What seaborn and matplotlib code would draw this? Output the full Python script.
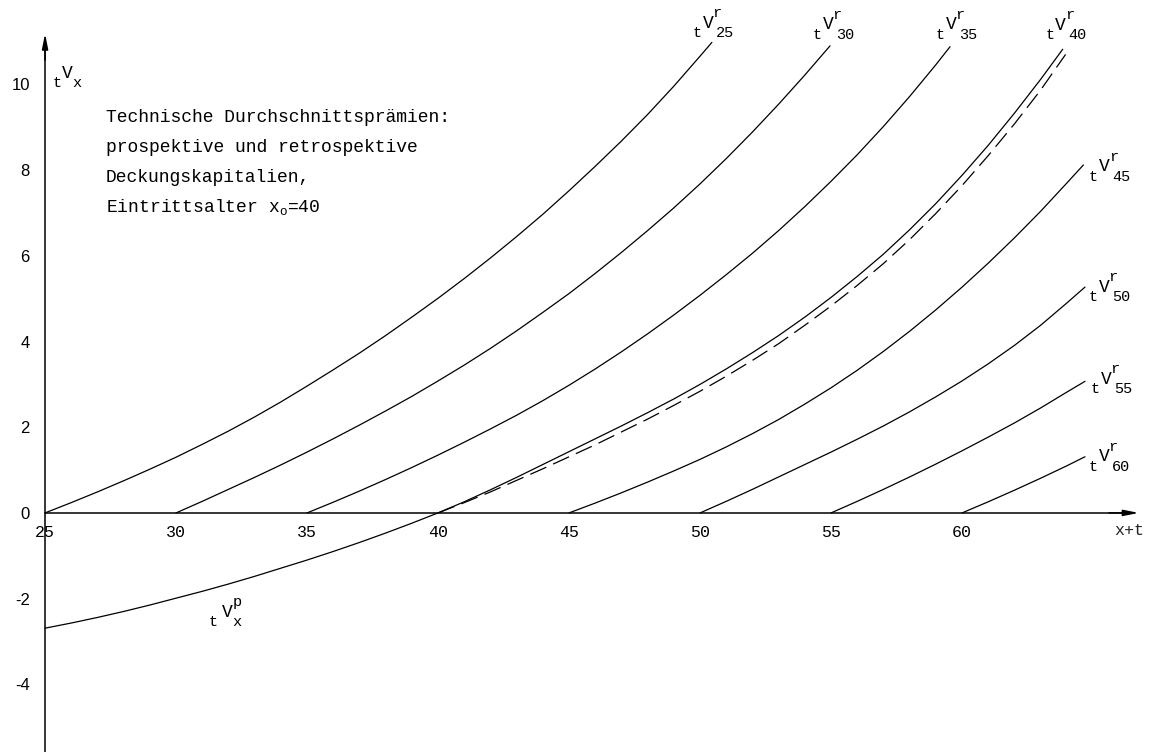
import numpy as np
import pandas as pd
import matplotlib
matplotlib.use("Agg")
import matplotlib.pyplot as plt
import seaborn as sns

# ---------------- data ----------------
age_r25 = [25, 26, 27, 28, 29, 30, 31, 32, 33, 34, 35, 36, 37, 38, 39, 40,
           41, 42, 43, 44, 45, 46, 47, 48, 49, 50, 50.45]
res_r25 = [0, 0.24, 0.49, 0.75, 1.02, 1.30, 1.60, 1.91, 2.24, 2.59, 2.96, 3.34,
           3.73, 4.14, 4.57, 5.01, 5.47, 5.95, 6.45, 6.97, 7.52, 8.09, 8.68,
           9.30, 9.96, 10.66, 10.98]

age_r30 = [30, 31, 32, 33, 34, 35, 36, 37, 38, 39, 40, 41, 42, 43, 44, 45,
           46, 47, 48, 49, 50, 51, 52, 53, 54, 54.96]
res_r30 = [0, 0.27, 0.55, 0.83, 1.12, 1.42, 1.73, 2.05, 2.38, 2.72, 3.08, 3.45,
           3.84, 4.25, 4.68, 5.12, 5.59, 6.08, 6.59, 7.12, 7.68, 8.27, 8.89,
           9.54, 10.22, 10.90]

age_r35 = [35, 36, 37, 38, 39, 40, 41, 42, 43, 44, 45, 46, 47, 48, 49, 50,
           51, 52, 53, 54, 55, 56, 57, 58, 59, 59.54]
res_r35 = [0, 0.25, 0.51, 0.78, 1.06, 1.35, 1.65, 1.96, 2.28, 2.62, 2.98, 3.36,
           3.76, 4.18, 4.62, 5.08, 5.56, 6.06, 6.59, 7.15, 7.74, 8.36, 9.02,
           9.72, 10.46, 10.88]

age_p = [25, 26, 27, 28, 29, 30, 31, 32, 33, 34, 35, 36, 37, 38, 39, 40, 41,
         42, 43, 44, 45, 46, 47, 48, 49, 50, 51, 52, 53, 54, 55, 56, 57, 58,
         59, 60, 61, 62, 63, 63.84]
res_p = [-2.69, -2.57, -2.44, -2.30, -2.15, -1.99, -1.83, -1.66, -1.48, -1.29,
         -1.10, -0.90, -0.69, -0.47, -0.24, 0, 0.26, 0.54, 0.83, 1.13, 1.43,
         1.73, 2.03, 2.34, 2.66, 3.00, 3.36, 3.74, 4.14, 4.57, 5.03, 5.52,
         6.04, 6.61, 7.22, 7.88, 8.58, 9.33, 10.12, 10.82]

age_r40 = [40, 41, 42, 43, 44, 45, 46, 47, 48, 49, 50, 51, 52, 53, 54, 55,
           56, 57, 58, 59, 60, 61, 62, 63, 63.95]
res_r40 = [0, 0.24, 0.49, 0.76, 1.03, 1.31, 1.59, 1.89, 2.19, 2.51, 2.84, 3.19,
           3.56, 3.95, 4.38, 4.83, 5.31, 5.82, 6.38, 6.99, 7.64, 8.34, 9.08,
           9.87, 10.70]

age_r45 = [45, 46, 47, 48, 49, 50, 51, 52, 53, 54, 55, 56, 57, 58, 59, 60,
           61, 62, 63, 64, 64.63]
res_r45 = [0, 0.23, 0.47, 0.72, 0.98, 1.25, 1.54, 1.85, 2.18, 2.54, 2.92, 3.33,
           3.77, 4.24, 4.74, 5.27, 5.83, 6.42, 7.04, 7.70, 8.12]

age_r50 = [50, 51, 52, 53, 54, 55, 56, 57, 58, 59, 60, 61, 62, 63, 64, 64.69]
res_r50 = [0, 0.27, 0.55, 0.84, 1.13, 1.42, 1.72, 2.03, 2.36, 2.71, 3.08, 3.48,
           3.91, 4.38, 4.90, 5.27]

age_r55 = [55, 56, 57, 58, 59, 60, 61, 62, 63, 64, 64.69]
res_r55 = [0, 0.27, 0.55, 0.84, 1.14, 1.45, 1.77, 2.10, 2.45, 2.82, 3.07]

age_r60 = [60, 61, 62, 63, 64, 64.69]
res_r60 = [0, 0.26, 0.53, 0.81, 1.10, 1.31]

x_ticks = [25, 30, 35, 40, 45, 50, 55, 60]
y_ticks = [-4, -2, 0, 2, 4, 6, 8, 10]

title_lines = ["Technische Durchschnittsprämien:",
               "prospektive und retrospektive",
               "Deckungskapitalien,",
               "Eintrittsalter x$_\\mathrm{o}$=40"]

# ---------------- style ----------------
sns.set_style("white")
plt.rcParams["font.family"] = ["Liberation Mono", "DejaVu Sans"]
plt.rcParams["mathtext.fontset"] = "custom"
plt.rcParams["mathtext.rm"] = "Liberation Mono"
plt.rcParams["mathtext.it"] = "Liberation Mono"

fig = plt.figure(figsize=(11.51, 7.52), dpi=100)
ax = fig.add_axes([0, 0, 1, 1])
ax.set_xlim(23.28, 67.21)
ax.set_ylim(-5.58, 11.97)

solid_kw = dict(color="black", linewidth=0.9)
retro = [(age_r25, res_r25), (age_r30, res_r30), (age_r35, res_r35),
         (age_r45, res_r45), (age_r50, res_r50), (age_r55, res_r55),
         (age_r60, res_r60)]
for a, r in retro:
    sns.lineplot(x=a, y=r, ax=ax, **solid_kw)
sns.lineplot(x=age_p, y=res_p, ax=ax, **solid_kw)
sns.lineplot(x=age_r40, y=res_r40, ax=ax, color="black", linewidth=0.9,
             linestyle=(0, (14, 6)))

# ---------------- axes ----------------
for s in ("top", "right"):
    ax.spines[s].set_visible(False)
ax.spines["left"].set_position(("data", 25))
ax.spines["bottom"].set_position(("data", 0))
ax.spines["left"].set_bounds(-5.58, 11.0)
ax.spines["bottom"].set_bounds(25, 66.2)
for s in ("left", "bottom"):
    ax.spines[s].set_linewidth(1.1)
    ax.spines[s].set_color("black")
ax.annotate("", xy=(66.85, 0), xytext=(65.5, 0),
            arrowprops=dict(arrowstyle="-|>,head_length=0.9,head_width=0.18",
                            color="black", lw=1.1))
ax.annotate("", xy=(25, 11.25), xytext=(25, 10.5),
            arrowprops=dict(arrowstyle="-|>,head_length=0.9,head_width=0.18",
                            color="black", lw=1.1))

ax.set_xticks(x_ticks)
ax.set_xticklabels([str(v) for v in x_ticks], family="Liberation Mono", fontsize=12)
ax.set_yticks(y_ticks)
ax.set_yticklabels([str(v) for v in y_ticks], family="Liberation Sans", fontsize=12)
ax.tick_params(axis="x", direction="out", length=3, width=1, pad=6, colors="black")
ax.tick_params(axis="y", direction="out", length=3, width=1, pad=8, colors="black")
ax.set_xlabel("")
ax.set_ylabel("")

ax.annotate("x+t", (66.85, 0), xytext=(-12, -18), textcoords="offset pixels",
            ha="center", va="center", fontsize=12, family="Liberation Mono")

# ---------------- curve labels ----------------
def vlabel(x, y, dx, dy, sup, sub, vdx=11, supdx=20, subdx=28):
    kw = dict(xycoords="data", textcoords="offset pixels", ha="center",
              va="center", family="Liberation Mono", color="black")
    ax.annotate("t", (x, y), xytext=(dx, dy), fontsize=11, **kw)
    ax.annotate("V", (x, y), xytext=(dx + vdx, dy + 10), fontsize=13, **kw)
    if sup:
        ax.annotate(sup, (x, y), xytext=(dx + supdx, dy + 20), fontsize=11, **kw)
    if sub:
        ax.annotate(sub, (x, y), xytext=(dx + subdx, dy), fontsize=11, **kw)

vlabel(age_r25[-1], res_r25[-1], -15, 9, "r", "25")
vlabel(age_r30[-1], res_r30[-1], -13, 11, "r", "30")
vlabel(age_r35[-1], res_r35[-1], -10, 12, "r", "35")
vlabel(age_p[-1], res_p[-1], -13, 14, "r", "40")
vlabel(age_r45[-1], res_r45[-1], 10, -12, "r", "45")
vlabel(age_r50[-1], res_r50[-1], 8, -10, "r", "50")
vlabel(age_r55[-1], res_r55[-1], 10, -8, "r", "55")
vlabel(age_r60[-1], res_r60[-1], 8, -10, "r", "60")
vlabel(age_p[5], res_p[5], 37, -24, "p", "x", vdx=14, supdx=24, subdx=24)
vlabel(25, 10, 12, 1, "", "x", vdx=10, subdx=20)

# ---------------- description ----------------
line_y = [118, 148, 178, 207]
for txt, py in zip(title_lines, line_y):
    ax.text(106 / 1151, 1 - py / 752, txt, transform=ax.transAxes,
            ha="left", va="center", fontsize=13, family="Liberation Mono",
            color="black")

fig.savefig("out.png", dpi=100)
